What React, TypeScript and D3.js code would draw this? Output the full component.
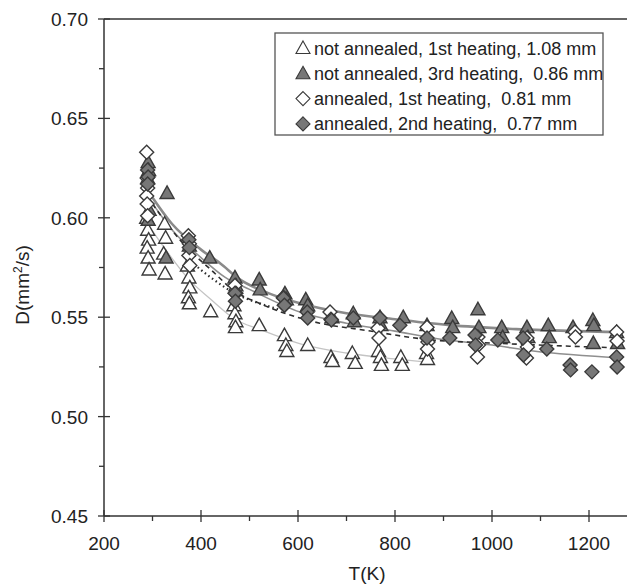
import React from 'react';
import * as d3 from 'd3';

// open triangles: not annealed, 1st heating, 1.08 mm
const tA = [288, 290, 292, 289, 291, 293, 325, 327, 323, 326, 372, 375, 377, 374, 376, 420, 468, 470, 472, 471, 520, 572, 575, 577, 620, 668, 671, 712, 718, 766, 770, 772, 812, 815, 865, 867];
const dA = [0.600, 0.594, 0.589, 0.585, 0.580, 0.574, 0.597, 0.590, 0.582, 0.572, 0.576, 0.570, 0.565, 0.560, 0.557, 0.553, 0.556, 0.552, 0.548, 0.545, 0.546, 0.541, 0.536, 0.533, 0.536, 0.530, 0.528, 0.532, 0.527, 0.533, 0.530, 0.526, 0.530, 0.526, 0.532, 0.529];

// filled triangles: not annealed, 3rd heating, 0.86 mm
const tB = [291, 292, 290, 293, 291, 330, 328, 376, 418, 470, 472, 520, 522, 573, 576, 616, 620, 670, 714, 716, 769, 771, 817, 866, 917, 919, 971, 973, 1020, 1022, 1072, 1074, 1116, 1118, 1167, 1208, 1210, 1209, 1257, 1259];
const dB = [0.628, 0.624, 0.620, 0.604, 0.599, 0.6125, 0.580, 0.586, 0.580, 0.570, 0.566, 0.569, 0.564, 0.562, 0.559, 0.559, 0.556, 0.550, 0.552, 0.548, 0.550, 0.546, 0.550, 0.546, 0.5496, 0.545, 0.554, 0.545, 0.545, 0.540, 0.545, 0.540, 0.546, 0.540, 0.545, 0.5486, 0.546, 0.537, 0.5425, 0.537];

// open diamonds: annealed, 1st heating, 0.81 mm
const tC = [288, 289, 290, 288, 289, 290, 374, 376, 375, 377, 470, 472, 570, 572, 666, 668, 765, 767, 866, 868, 867, 971, 972, 970, 1072, 1073, 1071, 1171, 1172, 1257, 1258];
const dC = [0.633, 0.620, 0.615, 0.611, 0.607, 0.601, 0.591, 0.587, 0.581, 0.576, 0.566, 0.562, 0.560, 0.556, 0.5526, 0.549, 0.5445, 0.5395, 0.545, 0.5375, 0.534, 0.540, 0.536, 0.530, 0.5395, 0.535, 0.5295, 0.5425, 0.540, 0.5425, 0.538];

// filled diamonds: annealed, 2nd heating, 0.77 mm
const tD = [290, 291, 290, 375, 376, 470, 471, 570, 572, 619, 620, 669, 714, 769, 810, 866, 913, 965, 966, 1012, 1064, 1065, 1113, 1161, 1162, 1206, 1257, 1258];
const dD = [0.624, 0.6205, 0.617, 0.589, 0.585, 0.562, 0.558, 0.5597, 0.556, 0.5526, 0.5496, 0.5486, 0.5496, 0.5496, 0.546, 0.5395, 0.5395, 0.541, 0.536, 0.5385, 0.5395, 0.531, 0.534, 0.526, 0.5235, 0.5225, 0.530, 0.525];

// fitted curves
const fitAT = [290, 330, 375, 420, 470, 520, 600, 700, 800, 880];
const fitAD = [0.597, 0.583, 0.569, 0.559, 0.549, 0.544, 0.537, 0.532, 0.529, 0.527];
const fitBT = [295, 340, 400, 440, 480, 540, 604, 700, 800, 913, 1050, 1270];
const fitBD = [0.612, 0.597, 0.584, 0.577, 0.569, 0.562, 0.557, 0.552, 0.549, 0.546, 0.544, 0.5425];
const fitCT = [300, 336, 375, 420, 470, 520, 645, 734, 878, 1000, 1270];
const fitCD = [0.607, 0.595, 0.584, 0.574, 0.563, 0.557, 0.547, 0.5436, 0.5385, 0.537, 0.5345];
const fitDT = [295, 340, 400, 450, 500, 604, 700, 800, 878, 1000, 1085, 1270];
const fitDD = [0.609, 0.594, 0.580, 0.570, 0.564, 0.5526, 0.547, 0.543, 0.5395, 0.536, 0.533, 0.5295];
const fitET = [365, 420, 470, 520, 560];
const fitED = [0.581, 0.570, 0.562, 0.557, 0.554];

const xTicks = [200, 400, 600, 800, 1000, 1200];
const xMinor = [300, 500, 700, 900, 1100];
const yTicks = [0.45, 0.50, 0.55, 0.60, 0.65, 0.70];
const yMinor = [0.475, 0.525, 0.575, 0.625, 0.675];
const legendLabels = [
  'not annealed, 1st heating, 1.08 mm',
  'not annealed, 3rd heating,  0.86 mm',
  'annealed, 1st heating,  0.81 mm',
  'annealed, 2nd heating,  0.77 mm',
];

const W = 627, H = 584;
const left = 104, top = 19, bottom = 516;
const x = d3.scaleLinear().domain([200, 1200]).range([left, 589]);
const y = d3.scaleLinear().domain([0.45, 0.70]).range([bottom, top]);
const font = "'Liberation Sans', Arial, sans-serif";

const tri = (cx: number, cy: number) => `M${cx},${cy - 7}L${cx + 7},${cy + 5.5}L${cx - 7},${cy + 5.5}Z`;
const dia = (cx: number, cy: number) => `M${cx},${cy - 7}L${cx + 7},${cy}L${cx},${cy + 7}L${cx - 7},${cy}Z`;

const line = d3.line<[number, number]>()
  .x(d => x(d[0]))
  .y(d => y(d[1]))
  .curve(d3.curveMonotoneX);

const zip = (a: number[], b: number[]) => a.map((v, i) => [v, b[i]] as [number, number]);

const FILL_DARK = '#777';
const STROKE = '#3a3a3a';

export default function App() {
  const markers = [
    { t: tA, d: dA, shape: tri, fill: '#fff' },
    { t: tB, d: dB, shape: tri, fill: FILL_DARK },
    { t: tC, d: dC, shape: dia, fill: '#fff' },
    { t: tD, d: dD, shape: dia, fill: FILL_DARK },
  ];
  const legendShapes = [
    { shape: tri, fill: '#fff' },
    { shape: tri, fill: FILL_DARK },
    { shape: dia, fill: '#fff' },
    { shape: dia, fill: FILL_DARK },
  ];

  return (
    <svg width={W} height={H} style={{ position: 'absolute', left: 0, top: 0, background: '#fff' }} fontFamily={font}>
      {/* fitted lines */}
      <path d={line(zip(fitAT, fitAD)) || ''} fill="none" stroke="#c4c4c4" strokeWidth={1.3} />
      <path d={line(zip(fitDT, fitDD)) || ''} fill="none" stroke="#8f8f8f" strokeWidth={1.6} />
      <path d={line(zip(fitBT, fitBD)) || ''} fill="none" stroke="#8a8a8a" strokeWidth={2.6} />
      <path d={line(zip(fitCT, fitCD)) || ''} fill="none" stroke="#2e2e2e" strokeWidth={1.6} strokeDasharray="5,4" />
      <path d={line(zip(fitET, fitED)) || ''} fill="none" stroke="#2e2e2e" strokeWidth={2.2} strokeDasharray="1.5,3" />

      {/* points */}
      {markers.map((s, si) => (
        <g key={si}>
          {s.t.map((t, i) => (
            <path key={i} d={s.shape(x(t), y(s.d[i]))} fill={s.fill} stroke={STROKE} strokeWidth={1.4} />
          ))}
        </g>
      ))}

      {/* axes */}
      <line x1={left} x2={W} y1={top} y2={top} stroke="#333" strokeWidth={1.5} />
      <line x1={left} x2={left} y1={top} y2={bottom} stroke="#333" strokeWidth={1.5} />
      <line x1={left} x2={W} y1={bottom} y2={bottom} stroke="#333" strokeWidth={1.5} />
      {yTicks.map(v => (
        <g key={v}>
          <line x1={left - 6} x2={left + 6} y1={y(v)} y2={y(v)} stroke="#333" strokeWidth={1.3} />
          <text x={left - 16} y={y(v) + 7} textAnchor="end" fontSize={19} fill="#222">{v.toFixed(2)}</text>
        </g>
      ))}
      {yMinor.map(v => (
        <line key={v} x1={left - 5} x2={left} y1={y(v)} y2={y(v)} stroke="#333" strokeWidth={1.3} />
      ))}
      {xTicks.map(v => (
        <g key={v}>
          <line x1={x(v)} x2={x(v)} y1={bottom - 6} y2={bottom + 6} stroke="#333" strokeWidth={1.3} />
          <text x={x(v)} y={bottom + 34} textAnchor="middle" fontSize={19} fill="#222">{v}</text>
        </g>
      ))}
      {xMinor.map(v => (
        <line key={v} x1={x(v)} x2={x(v)} y1={bottom} y2={bottom + 5} stroke="#333" strokeWidth={1.3} />
      ))}
      <text x={367} y={580} textAnchor="middle" fontSize={19} fill="#222">T(K)</text>
      <text transform="translate(29,285) rotate(-90)" textAnchor="middle" fontSize={19} fill="#222">
        D(mm<tspan dy={-7} fontSize={12}>2</tspan><tspan dy={7}>/s)</tspan>
      </text>

      {/* legend */}
      <rect x={275} y={33} width={328} height={102} fill="#fff" stroke="#555" strokeWidth={1.3} />
      {legendLabels.map((lab, i) => {
        const cy = 48 + i * 25.3;
        const ls = legendShapes[i];
        return (
          <g key={i}>
            <path d={ls.shape(303, cy)} fill={ls.fill} stroke={STROKE} strokeWidth={1.1} />
            <text x={314} y={cy + 6.5} fontSize={18} fill="#222" style={{ whiteSpace: 'pre' }}>{lab}</text>
          </g>
        );
      })}
    </svg>
  );
}
